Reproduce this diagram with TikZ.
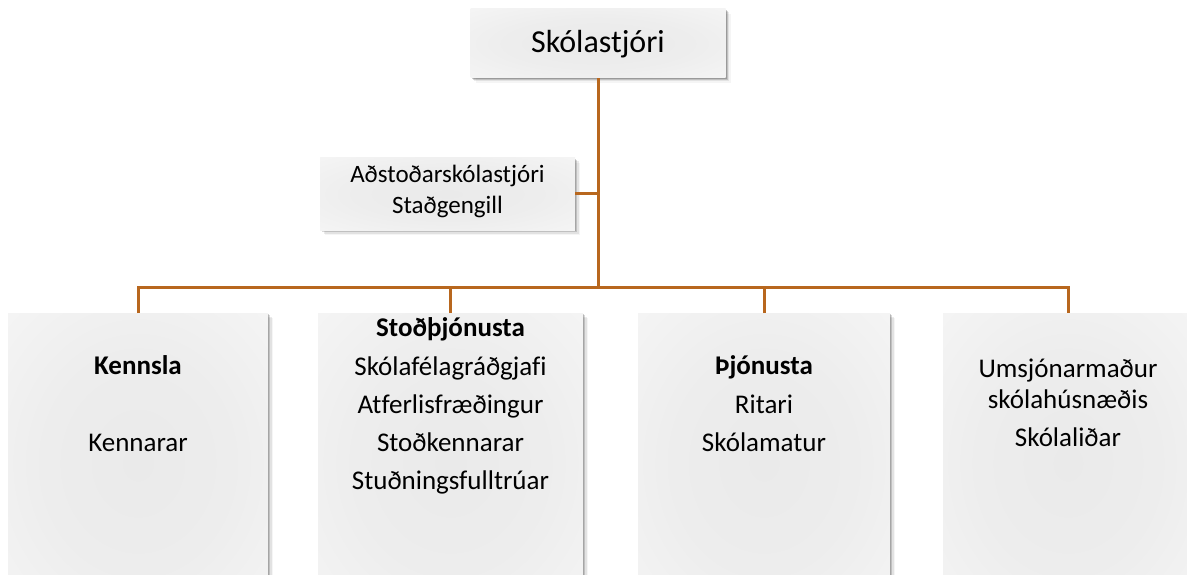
\documentclass[tikz,border=0pt]{standalone}
\usepackage{fontspec}
\setmainfont{Carlito}[Ligatures=NoCommon]
\usetikzlibrary{shadows}
\definecolor{linecol}{HTML}{B8671E}
\definecolor{shA}{HTML}{EAEAEA}
\definecolor{shB}{HTML}{EDEDED}
\definecolor{shC}{HTML}{F4F4F4}
\definecolor{shD}{HTML}{FDFDFD}
\pgfdeclareradialshading{boxshade}{\pgfpoint{0bp}{0bp}}{color(0bp)=(shA); color(18bp)=(shB); color(35bp)=(shC); color(50bp)=(shD); color(100bp)=(white)}
\begin{document}
\begin{tikzpicture}[x=1pt,y=-1pt,
  orgbox/.style={shading=boxshade, draw=none,
    drop shadow={shadow xshift=1pt,shadow yshift=-1pt,fill=black,opacity=.2},
    drop shadow={shadow xshift=2pt,shadow yshift=-2pt,fill=black,opacity=.15},
    drop shadow={shadow xshift=3.5pt,shadow yshift=-3.5pt,fill=black,opacity=.08},
    drop shadow={shadow xshift=5pt,shadow yshift=-5pt,fill=black,opacity=.04}},
  conn/.style={draw=linecol, line width=3pt},
  bodytext/.style={font=\fontsize{25}{30}\selectfont, inner sep=0pt, anchor=base, text=black},
  lowtext/.style={bodytext, font=\fontsize{27}{32}\selectfont},
  boldtext/.style={bodytext, font=\fontsize{27}{32}\selectfont\bfseries},
  titletext/.style={bodytext, font=\fontsize{32}{38}\selectfont}]
\useasboundingbox (0,0) rectangle (1187,575);
\clip (0,0) rectangle (1187,575);
% boxes
\node[orgbox, minimum width=255pt, minimum height=69pt] (top) at (598,43.5) {};
\node[orgbox, minimum width=255pt, minimum height=72pt] (asst) at (447.5,194) {};
\node[orgbox, anchor=north, minimum width=260pt, minimum height=300pt] (b1) at (138,313) {};
\node[orgbox, anchor=north, minimum width=265pt, minimum height=300pt] (b2) at (450.5,313) {};
\node[orgbox, anchor=north, minimum width=252pt, minimum height=300pt] (b3) at (764,313) {};
\node[orgbox, anchor=north, minimum width=250pt, minimum height=300pt] (b4) at (1068,313) {};
% connectors
\coordinate (j) at (598,287);
\draw[conn] (top.south) -- (j);
\draw[conn] (asst.east) -- (asst.east -| j);
\draw[conn] (b1.north) -- (b1.north |- j) -- (b4.north |- j) -- (b4.north);
\draw[conn] (b2.north) -- (b2.north |- j);
\draw[conn] (b3.north) -- (b3.north |- j);
% texts
\node[titletext] (t0) at (598,53) {Skólastjóri};
\node[bodytext] (a1) at (447.5,183) {Aðstoðarskólastjóri};
\node[bodytext] (a2) at (447.5,213.5) {Staðgengill};
\node[boldtext] (k1) at (138,374) {Kennsla};
\node[lowtext] (k2) at (138,451.5) {Kennarar};
\node[boldtext] (s1) at (450.5,336.5) {Stoðþjónusta};
\node[lowtext] (s2) at (450.5,375) {Skólafélagráðgjafi};
\node[lowtext] (s3) at (450.5,413) {Atferlisfræðingur};
\node[lowtext] (s4) at (450.5,451.5) {Stoðkennarar};
\node[lowtext] (s5) at (450.5,489) {Stuðningsfulltrúar};
\node[boldtext] (p1) at (764,374) {Þjónusta};
\node[lowtext] (p2) at (764,413.5) {Ritari};
\node[lowtext] (p3) at (764,451.5) {Skólamatur};
\node[lowtext] (u1) at (1068,377) {Umsjónarmaður};
\node[lowtext] (u2) at (1068,408.5) {skólahúsnæðis};
\node[lowtext] (u3) at (1068,446.5) {Skólaliðar};
\end{tikzpicture}
\end{document}
